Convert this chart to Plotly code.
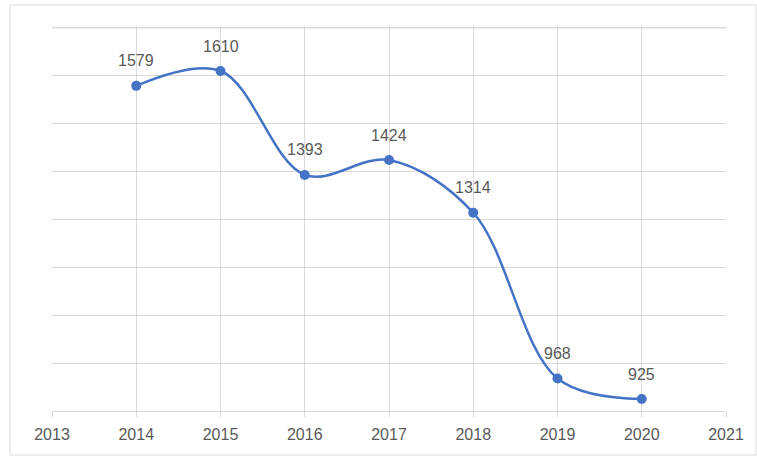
import plotly.graph_objects as go

years = [2014, 2015, 2016, 2017, 2018, 2019, 2020]
values = [1579, 1610, 1393, 1424, 1314, 968, 925]
tick_years = [2013, 2014, 2015, 2016, 2017, 2018, 2019, 2020, 2021]
y_grid = [1000, 1100, 1200, 1300, 1400, 1500, 1600, 1700]

W, H = 757, 459
ml, mr, mt, mb = 52, 31, 26, 48
pw, ph = W - ml - mr, H - mt - mb

fig = go.Figure()
fig.add_trace(go.Scatter(
    x=years, y=values, mode="lines+markers",
    line=dict(color="#4472C4", width=2.5, shape="spline", smoothing=1.0),
    marker=dict(color="#4472C4", size=10),
    hoverinfo="skip", showlegend=False,
))
for xv, yv in zip(years, values):
    fig.add_annotation(x=xv, y=yv, text=str(yv), showarrow=False, yshift=25,
                       font=dict(family="Liberation Sans", size=16, color="#595959"))

def px_x(p):
    return (p - ml) / pw

def px_y(p):
    return (H - mb - p) / ph

fig.add_shape(type="rect", xref="paper", yref="paper",
              x0=px_x(10), x1=px_x(756), y0=px_y(455), y1=px_y(5),
              line=dict(color="#d9d9d9", width=1), layer="below")
fig.add_shape(type="line", xref="x", yref="y",
              x0=tick_years[0], x1=tick_years[-1], y0=y_grid[-1], y1=y_grid[-1],
              line=dict(color="#d9d9d9", width=1), layer="above")

fig.update_layout(
    width=W, height=H,
    margin=dict(l=ml, r=mr, t=mt, b=mb),
    paper_bgcolor="white", plot_bgcolor="white",
    font=dict(family="Liberation Sans", size=16, color="#595959"),
)
fig.update_xaxes(
    range=[2013, 2021], tickmode="array", tickvals=tick_years,
    ticktext=[str(t) for t in tick_years],
    showgrid=True, gridcolor="#d9d9d9", gridwidth=1,
    showline=True, linecolor="#d9d9d9", linewidth=1,
    ticks="outside", ticklen=5, tickcolor="#d9d9d9",
    ticklabelstandoff=4,
    zeroline=False, tickfont=dict(color="#595959", size=16),
)
fig.update_yaxes(
    range=[900, 1704], tickmode="array", tickvals=y_grid,
    showticklabels=False,
    showgrid=True, gridcolor="#d9d9d9", gridwidth=1,
    zeroline=False, showline=False,
)
fig.write_html("out.html")
